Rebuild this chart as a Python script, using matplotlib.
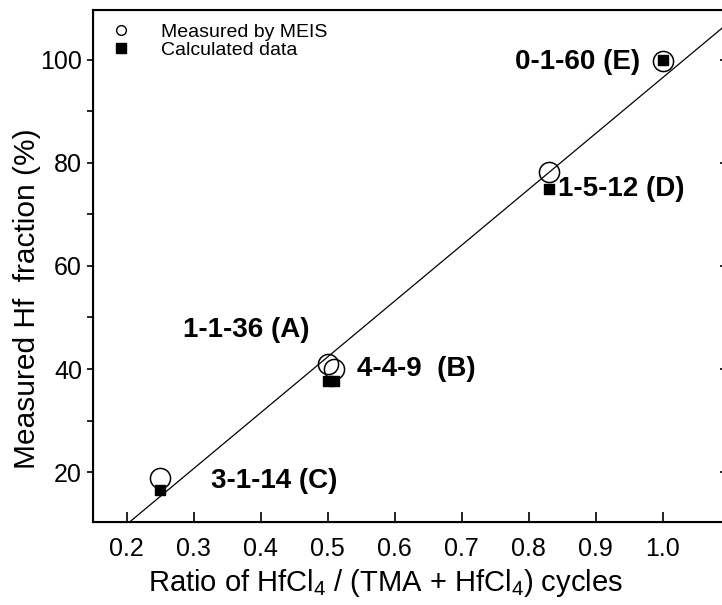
import numpy as np
import matplotlib.pyplot as plt
from matplotlib.lines import Line2D
from matplotlib.ticker import MultipleLocator

plt.rcParams['font.family'] = ['Liberation Sans', 'DejaVu Sans']
plt.rcParams['mathtext.fontset'] = 'custom'
plt.rcParams['mathtext.rm'] = 'Liberation Sans'

# HfCl4 cycle ratio and Hf fraction for each sample
samples = ['1-1-36 (A)', '4-4-9  (B)', '3-1-14 (C)', '1-5-12 (D)', '0-1-60 (E)']
ratio = [0.50, 0.51, 0.25, 0.83, 1.00]
measured = [41.0, 40.0, 18.8, 78.3, 99.8]
calculated = [37.6, 37.6, 16.6, 75.0, 100.0]

# linear fit y = slope * x + intercept
fit_slope = 108.5
fit_intercept = -11.9

# label anchor points (x, y, ha)
label_pos = [(0.284, 47.6, 'left'), (0.544, 40.0, 'left'), (0.326, 18.3, 'left'),
             (0.844, 75.0, 'left'), (0.966, 99.6, 'right')]

fig = plt.figure(figsize=(7.22, 6.05), dpi=100)
ax = fig.add_axes([0.1288, 0.1372, 0.8822, 0.8463])

xl = np.array([0.15, 1.1])
ax.plot(xl, fit_slope * xl + fit_intercept, color='black', lw=0.9, zorder=1)

ax.plot(ratio, calculated, ls='none', marker='s', ms=7, color='black', zorder=2)
ax.plot(ratio, measured, ls='none', marker='o', ms=14.5, mfc='none',
        mec='black', mew=1.1, zorder=3)

for name, (tx, ty, ha) in zip(samples, label_pos):
    ax.text(tx, ty, name, fontsize=20, fontweight='bold', ha=ha, va='center')

ax.set_xlim(0.15, 1.1)
ax.set_ylim(10.3, 109.7)
ax.set_xticks(np.arange(0.2, 1.01, 0.1))
ax.set_xticklabels(['%.1f' % v for v in np.arange(0.2, 1.01, 0.1)])
ax.set_yticks([20, 40, 60, 80, 100])
ax.yaxis.set_minor_locator(MultipleLocator(10))

ax.tick_params(axis='x', direction='in', length=7, width=1.2, labelsize=18, pad=11)
ax.tick_params(axis='y', which='both', direction='out', length=4.5, width=1.2,
               labelsize=18)
for s in ax.spines.values():
    s.set_linewidth(1.5)

# inward ticks along the right frame
rax = ax.twinx()
rax.set_ylim(ax.get_ylim())
rax.set_yticks([20, 40, 60, 80, 100])
rax.tick_params(axis='y', direction='in', length=7, width=1.2, labelright=False)

ax.set_xlabel(r'Ratio of HfCl$_4$ / (TMA + HfCl$_4$) cycles', fontsize=21)
ax.xaxis.set_label_coords(0.459, -0.087)
ax.set_ylabel('Measured Hf  fraction (%)', fontsize=21.5)
ax.yaxis.set_label_coords(-0.082, 0.436)

handles = [Line2D([], [], ls='none', marker='o', ms=7, mfc='none', mec='black', mew=1),
           Line2D([], [], ls='none', marker='s', ms=6.5, color='black')]
ax.legend(handles, ['Measured by MEIS', 'Calculated data'], loc='upper left',
          bbox_to_anchor=(0.0, 1.0), frameon=False, fontsize=14,
          handlelength=1.5, handletextpad=1.3, labelspacing=0.02,
          borderaxespad=0.3)

fig.savefig('out.png', dpi=100)
